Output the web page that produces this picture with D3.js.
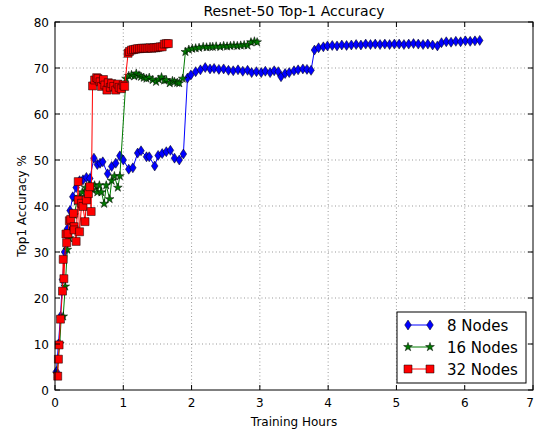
<!DOCTYPE html>
<html><head><meta charset="utf-8">
<script src="https://cdn.jsdelivr.net/npm/d3@7"></script>
<style>body{margin:0;background:#fff}text{font-family:"DejaVu Sans",sans-serif}</style>
</head><body><svg id="c" width="536" height="433"></svg>
<script>
const title = "Resnet-50 Top-1 Accuracy";
const xLabel = "Training Hours";
const yLabel = "Top1 Accuracy %";
const xTicks = [0,1,2,3,4,5,6,7];
const yTicks = [0,10,20,30,40,50,60,70,80];
const seriesNames = ["8 Nodes","16 Nodes","32 Nodes"];

const blueX = [0.02,0.05,0.08,0.11,0.14,0.18,0.22,0.26,0.31,0.36,0.41,0.46,0.51,0.57,0.62,0.66,0.70,0.77,0.83,0.89,0.95,1.00,1.08,1.14,1.21,1.26,1.34,1.38,1.46,1.51,1.57,1.63,1.69,1.75,1.82,1.88,1.94,1.99,2.06,2.13,2.20,2.27,2.33,2.40,2.47,2.54,2.61,2.68,2.75,2.82,2.88,2.95,3.02,3.08,3.15,3.21,3.27,3.31,3.37,3.43,3.50,3.56,3.63,3.69,3.75,3.80,3.86,3.93,3.99,4.06,4.13,4.20,4.27,4.34,4.41,4.48,4.55,4.62,4.69,4.76,4.83,4.90,4.97,5.04,5.11,5.18,5.25,5.32,5.39,5.46,5.53,5.60,5.66,5.73,5.80,5.87,5.94,6.01,6.08,6.15,6.22];
const blueY = [4,10,16,24,30,35,39,42,44,45.5,45.7,46.2,46.0,50.4,49.0,49.3,49.6,47.0,48.6,49.3,50.9,50.0,48.0,48.3,51.5,52.0,50.7,50.7,48.7,51.0,51.4,51.8,52.1,50.4,50.0,51.3,67.8,68.5,69.2,69.6,70.1,69.8,69.9,69.7,69.8,69.5,69.4,69.6,69.3,69.5,69.0,69.2,69.0,69.3,69.0,69.4,69.2,68.1,68.8,69.0,69.4,69.6,69.8,69.7,69.5,73.9,74.4,74.6,74.8,74.9,74.8,75.0,74.9,75.0,75.1,75.0,75.2,75.1,75.2,75.1,75.2,75.1,75.2,75.2,75.1,75.2,75.3,75.2,75.1,75.2,75.0,74.8,75.5,75.7,75.6,75.8,75.7,75.9,75.8,75.9,76.0];

const greenX = [0.03,0.07,0.09,0.12,0.15,0.18,0.21,0.25,0.28,0.32,0.36,0.40,0.45,0.50,0.55,0.58,0.62,0.65,0.68,0.72,0.75,0.80,0.83,0.87,0.92,0.95,1.04,1.08,1.12,1.16,1.19,1.23,1.26,1.30,1.34,1.38,1.43,1.48,1.52,1.56,1.60,1.63,1.68,1.72,1.75,1.79,1.82,1.87,1.91,1.96,2.01,2.06,2.11,2.17,2.22,2.27,2.31,2.36,2.42,2.47,2.52,2.57,2.62,2.67,2.72,2.77,2.82,2.87,2.92,2.96];
const greenY = [3.5,10,15.5,16,22.5,30.5,33,36,38,41,42,43,44,44.5,43.5,44.5,43,44.5,43,40.5,44.5,41.5,45.5,46.5,44,46.5,67.7,68.3,68.5,68.2,68.8,68.4,68.1,67.9,67.7,67.9,67.4,67.0,67.5,68.0,67.3,67.4,66.7,67.2,67.0,66.8,66.7,67.7,73.5,74.0,74.2,74.3,74.4,74.6,74.5,74.6,74.6,74.7,74.6,74.8,74.7,74.8,74.9,74.8,74.9,75.0,74.9,75.6,75.8,75.6];

const redX = [0.04,0.05,0.06,0.08,0.11,0.12,0.13,0.16,0.17,0.19,0.21,0.23,0.27,0.28,0.28,0.31,0.34,0.34,0.36,0.39,0.41,0.44,0.46,0.49,0.51,0.53,0.55,0.58,0.61,0.63,0.66,0.68,0.71,0.73,0.76,0.78,0.81,0.83,0.86,0.89,0.92,0.94,0.97,1.00,1.02,1.07,1.09,1.12,1.15,1.18,1.21,1.24,1.27,1.30,1.33,1.36,1.39,1.42,1.45,1.48,1.51,1.54,1.57,1.60,1.63,1.66];
const redY = [3.0,6.7,9.8,15.4,21.5,28.4,24.2,33.9,32.0,34.0,36.8,37.1,38.4,35.5,34.8,32.3,45.3,41.3,34.4,40.6,39.9,36.6,41.3,42.7,44.2,38.8,66.1,67.4,67.9,67.7,67.0,66.0,67.5,66.3,65.2,66.8,65.8,66.6,66.0,65.2,66.5,65.8,65.5,66.3,66.0,73.2,73.6,73.9,74.0,74.1,74.2,74.2,74.3,74.3,74.3,74.3,74.4,74.3,74.4,74.4,74.5,74.6,74.6,75.2,75.3,75.3];

const svg = d3.select("#c");
const m = {l:55, t:22, r:533, b:390};
const x = d3.scaleLinear().domain([0,7]).range([m.l,m.r]);
const y = d3.scaleLinear().domain([0,80]).range([m.b,m.t]);

// grid
const g = svg.append("g");
g.selectAll(".gx").data(xTicks.slice(1,-1)).enter().append("line")
 .attr("x1",d=>x(d)).attr("x2",d=>x(d)).attr("y1",m.t).attr("y2",m.b)
 .attr("stroke","#555").attr("stroke-width",0.6).attr("stroke-dasharray","1,2.5");
g.selectAll(".gy").data(yTicks.slice(1,-1)).enter().append("line")
 .attr("y1",d=>y(d)).attr("y2",d=>y(d)).attr("x1",m.l).attr("x2",m.r)
 .attr("stroke","#555").attr("stroke-width",0.6).attr("stroke-dasharray","1,2.5");

// series
function drawSeries(xs, ys, color, sym, lw){
  const pts = xs.map((v,i)=>[v,ys[i]]);
  svg.append("path").datum(pts)
    .attr("d", d3.line().x(d=>x(d[0])).y(d=>y(d[1])))
    .attr("fill","none").attr("stroke",color).attr("stroke-width",lw);
  svg.append("g").selectAll("path").data(pts).enter().append("path")
    .attr("transform",d=>`translate(${x(d[0])},${y(d[1])})`)
    .attr("d", sym)
    .attr("fill",color).attr("stroke","#000").attr("stroke-width",0.5);
}
const diamond = "M0,-5L3.3,0L0,5L-3.3,0Z";
const square = "M-4,-4H4V4H-4Z";
const star = d3.symbol().type(d3.symbolStar).size(24)();
drawSeries(blueX, blueY, "#0000ff", diamond, 1);
drawSeries(greenX, greenY, "#007a00", star, 1);
drawSeries(redX, redY, "#ff0000", square, 1);

// frame
svg.append("rect").attr("x",m.l).attr("y",m.t).attr("width",m.r-m.l).attr("height",m.b-m.t)
 .attr("fill","none").attr("stroke","#000").attr("stroke-width",1);

// ticks (inward, all sides)
const tk = svg.append("g").attr("stroke","#000").attr("stroke-width",1);
xTicks.forEach(t=>{
  tk.append("line").attr("x1",x(t)).attr("x2",x(t)).attr("y1",m.b).attr("y2",m.b-5);
  tk.append("line").attr("x1",x(t)).attr("x2",x(t)).attr("y1",m.t).attr("y2",m.t+5);
});
yTicks.forEach(t=>{
  tk.append("line").attr("y1",y(t)).attr("y2",y(t)).attr("x1",m.l).attr("x2",m.l+5);
  tk.append("line").attr("y1",y(t)).attr("y2",y(t)).attr("x1",m.r).attr("x2",m.r-5);
});
svg.append("g").selectAll("text").data(xTicks).enter().append("text")
 .attr("x",d=>Math.min(x(d),530)).attr("y",m.b+17).attr("text-anchor","middle").attr("font-size",12).text(d=>d);
svg.append("g").selectAll("text").data(yTicks).enter().append("text")
 .attr("x",m.l-6).attr("y",d=>y(d)+4.5).attr("text-anchor","end").attr("font-size",12).text(d=>d);

svg.append("text").attr("x",(m.l+m.r)/2).attr("y",16).attr("text-anchor","middle").attr("font-size",14).text(title);
svg.append("text").attr("x",(m.l+m.r)/2).attr("y",426).attr("text-anchor","middle").attr("font-size",12).text(xLabel);
svg.append("text").attr("transform",`translate(26,${(m.t+m.b)/2}) rotate(-90)`).attr("text-anchor","middle").attr("font-size",12).text(yLabel);

// legend
const lg = svg.append("g");
lg.append("rect").attr("x",397).attr("y",312).attr("width",129).attr("height",71)
 .attr("fill","#fff").attr("stroke","#000").attr("stroke-width",1);
const lcol = ["#0000ff","#007a00","#ff0000"];
const lsym = [diamond, star, square];
seriesNames.forEach((n,i)=>{
  const yy = 325 + i*22;
  lg.append("line").attr("x1",408).attr("x2",430).attr("y1",yy).attr("y2",yy).attr("stroke",lcol[i]).attr("stroke-width",1);
  [408,430].forEach(xx=>lg.append("path").attr("transform",`translate(${xx},${yy})`).attr("d",lsym[i]).attr("fill",lcol[i]).attr("stroke","#000").attr("stroke-width",0.5));
  lg.append("text").attr("x",447).attr("y",yy+5.5).attr("font-size",15).text(n);
});
</script></body></html>
